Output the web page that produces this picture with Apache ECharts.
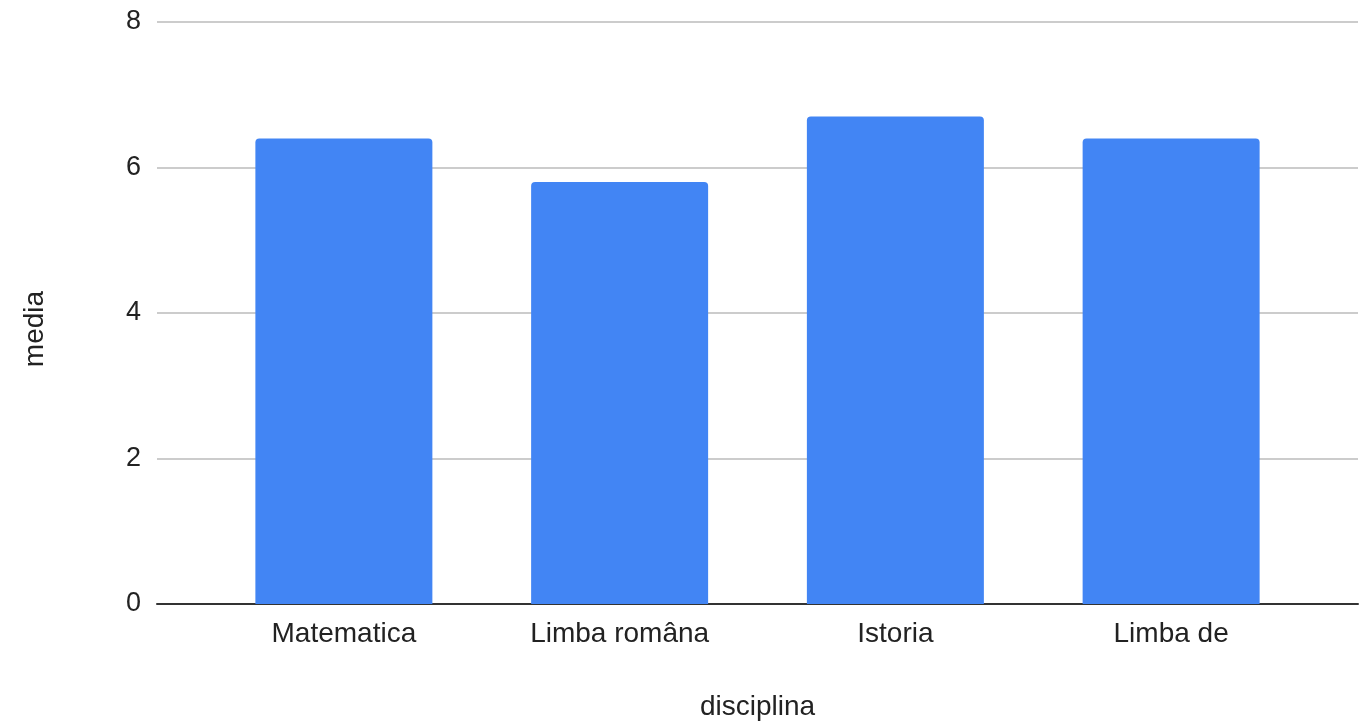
<!DOCTYPE html>
<html><head><meta charset="utf-8">
<script src="https://cdn.jsdelivr.net/npm/echarts@6/dist/echarts.min.js"></script>
<style>html,body{margin:0;padding:0;background:#fff}#c{width:1365px;height:724px}</style>
</head><body><div id="c"></div>
<script>
const categories = ['Matematica', 'Limba româna', 'Istoria', 'Limba de'];
const media = [6.4, 5.8, 6.7, 6.4];
const yTicks = [0, 2, 4, 6, 8];

const font = 'Liberation Sans, Arial, sans-serif';
const chart = echarts.init(document.getElementById('c'));
chart.setOption({
  animation: false,
  grid: [
    {left: 157, right: 7, top: 22, bottom: 120, containLabel: false, outerBoundsMode: 'none'},
    {left: 206, right: 56, top: 22, bottom: 120, containLabel: false, outerBoundsMode: 'none'}
  ],
  xAxis: [
    {gridIndex: 0, type: 'category', data: categories, name: 'disciplina', nameLocation: 'middle', nameGap: 89,
     nameTextStyle: {fontFamily: font, fontSize: 28, color: '#222'},
     axisLine: {lineStyle: {color: '#333', width: 2}}, axisTick: {show: false}, axisLabel: {show: false}},
    {gridIndex: 1, type: 'category', data: categories,
     axisLine: {show: false}, axisTick: {show: false},
     axisLabel: {fontFamily: font, fontSize: 28, color: '#222', margin: 16}}
  ],
  yAxis: [
    {gridIndex: 0, type: 'value', min: yTicks[0], max: yTicks[yTicks.length-1], interval: 2,
     name: 'media', nameLocation: 'middle', nameGap: 108, nameRotate: 90,
     nameTextStyle: {fontFamily: font, fontSize: 28, color: '#222', padding: [0, 32, 0, 0]},
     axisLine: {show: false}, axisTick: {show: false},
     axisLabel: {fontFamily: font, fontSize: 27, color: '#222', margin: 16},
     splitLine: {lineStyle: {color: '#cccccc', width: 2}}},
    {gridIndex: 1, type: 'value', min: yTicks[0], max: yTicks[yTicks.length-1], interval: 2,
     show: false, splitLine: {show: false}}
  ],
  series: [{
    type: 'bar', xAxisIndex: 1, yAxisIndex: 1, data: media, barWidth: 177,
    itemStyle: {color: '#4285F4', borderRadius: [4, 4, 0, 0]}
  }]
});
</script></body></html>
